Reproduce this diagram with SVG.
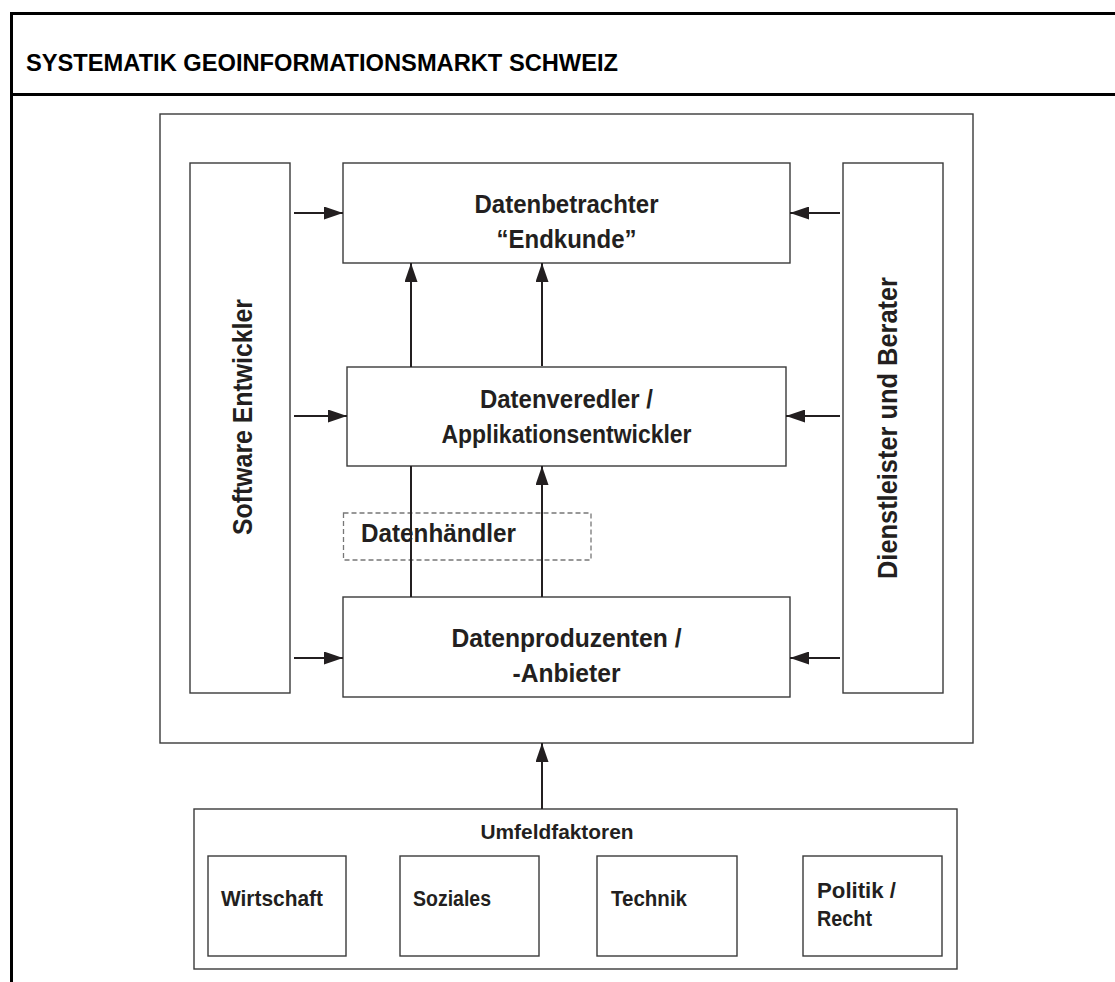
<svg xmlns="http://www.w3.org/2000/svg" width="1115" height="982" viewBox="0 0 1115 982">
<style>
.frame{fill:none;stroke:#000;stroke-width:3}
.box{fill:#fff;stroke:#3a3a3a;stroke-width:1.4}
.dash{fill:none;stroke:#777;stroke-width:1.3;stroke-dasharray:5 3}
.t{font-family:"Liberation Sans",Arial,sans-serif;font-weight:bold;fill:#231f20}
.lbl{font-size:26px;text-anchor:middle}
.vl{font-size:27px;text-anchor:middle}
.sm{font-size:22px}
.title{font-size:24px;fill:#000}
.conn{fill:none;stroke:#231f20;stroke-width:2}
</style>
<defs>
<marker id="ah" viewBox="0 0 19 13" refX="19" refY="6.5" markerWidth="19" markerHeight="13" markerUnits="userSpaceOnUse" orient="auto">
<path d="M0,0 L19,6.5 L0,13 Z" fill="#231f20"/>
</marker>
</defs>
<rect width="1115" height="982" fill="#fff"/>
<g id="frame">
<path class="frame" d="M1115,13.5 H11.5 V982 M11.5,94.5 H1115"/>
<text class="t title" x="26" y="71" textLength="592" lengthAdjust="spacingAndGlyphs">SYSTEMATIK GEOINFORMATIONSMARKT SCHWEIZ</text>
</g>
<g id="markt">
<rect class="box" x="160" y="114" width="813" height="629"/>
</g>
<g id="software">
<rect class="box" x="190" y="163" width="100" height="530"/>
<text class="t vl" transform="translate(252,417) rotate(-90)" textLength="236" lengthAdjust="spacingAndGlyphs">Software Entwickler</text>
</g>
<g id="dienstleister">
<rect class="box" x="843" y="163" width="100" height="530"/>
<text class="t vl" transform="translate(897,428) rotate(-90)" textLength="302" lengthAdjust="spacingAndGlyphs">Dienstleister und Berater</text>
</g>
<g id="datenbetrachter">
<rect class="box" x="343" y="163" width="447" height="100"/>
<text class="t lbl" x="566.5" y="213" textLength="184" lengthAdjust="spacingAndGlyphs">Datenbetrachter</text>
<text class="t lbl" x="566.5" y="248" textLength="140" lengthAdjust="spacingAndGlyphs">“Endkunde”</text>
</g>
<g id="datenveredler">
<rect class="box" x="347" y="367" width="439" height="99"/>
<text class="t lbl" x="566.5" y="408" textLength="173" lengthAdjust="spacingAndGlyphs">Datenveredler /</text>
<text class="t lbl" x="566.5" y="443" textLength="250" lengthAdjust="spacingAndGlyphs">Applikationsentwickler</text>
</g>
<g id="datenhaendler">
<rect class="dash" x="343.5" y="513" width="247.5" height="47"/>
<text class="t" x="361" y="542" font-size="26" textLength="155" lengthAdjust="spacingAndGlyphs">Datenhändler</text>
</g>
<g id="datenproduzenten">
<rect class="box" x="343" y="597" width="447" height="100"/>
<text class="t lbl" x="566.5" y="647" textLength="230" lengthAdjust="spacingAndGlyphs">Datenproduzenten /</text>
<text class="t lbl" x="566.5" y="682" textLength="108" lengthAdjust="spacingAndGlyphs">-Anbieter</text>
</g>
<g id="umfeld">
<rect class="box" x="194" y="809" width="763" height="160"/>
<text class="t" x="557" y="839" font-size="21" text-anchor="middle" textLength="153" lengthAdjust="spacingAndGlyphs">Umfeldfaktoren</text>
</g>
<g id="wirtschaft">
<rect class="box" x="208" y="856" width="138" height="100"/>
<text class="t sm" x="221" y="906" textLength="102" lengthAdjust="spacingAndGlyphs">Wirtschaft</text>
</g>
<g id="soziales">
<rect class="box" x="400" y="856" width="139" height="100"/>
<text class="t sm" x="413" y="906" textLength="78" lengthAdjust="spacingAndGlyphs">Soziales</text>
</g>
<g id="technik">
<rect class="box" x="597" y="856" width="140" height="100"/>
<text class="t sm" x="611" y="906" textLength="76" lengthAdjust="spacingAndGlyphs">Technik</text>
</g>
<g id="politik">
<rect class="box" x="803" y="856" width="139" height="100"/>
<text class="t sm" x="817" y="898" textLength="79" lengthAdjust="spacingAndGlyphs">Politik /</text>
<text class="t sm" x="817" y="926" textLength="55" lengthAdjust="spacingAndGlyphs">Recht</text>
</g>
<g id="connectors">
<path class="conn" d="M294,213 H343" marker-end="url(#ah)"/>
<path class="conn" d="M294,416 H347" marker-end="url(#ah)"/>
<path class="conn" d="M294,658 H343" marker-end="url(#ah)"/>
<path class="conn" d="M840,213 H790" marker-end="url(#ah)"/>
<path class="conn" d="M840,416 H786" marker-end="url(#ah)"/>
<path class="conn" d="M840,658 H790" marker-end="url(#ah)"/>
<path class="conn" d="M411,597 V466"/>
<path class="conn" d="M411,367 V263" marker-end="url(#ah)"/>
<path class="conn" d="M542,597 V466" marker-end="url(#ah)"/>
<path class="conn" d="M542,366 V263" marker-end="url(#ah)"/>
<path class="conn" d="M542,809 V743" marker-end="url(#ah)"/>
</g>
</svg>
